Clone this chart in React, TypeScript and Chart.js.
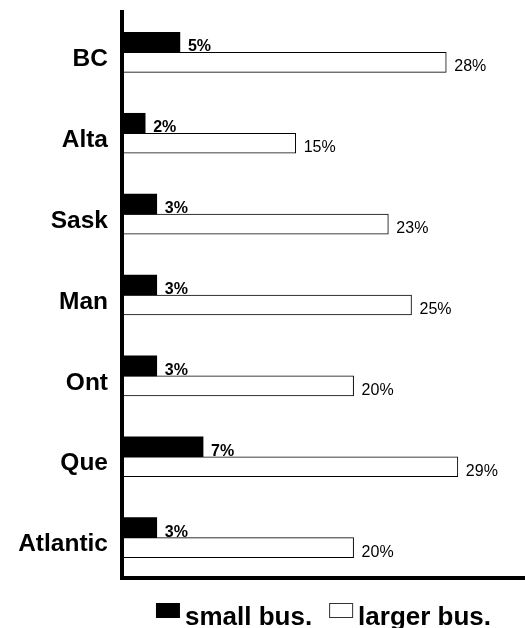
import React, { useEffect, useRef } from "react";
import { Chart, registerables } from "chart.js";

Chart.register(...registerables);

const categories = ["BC", "Alta", "Sask", "Man", "Ont", "Que", "Atlantic"];
const smallBus = [5, 2, 3, 3, 3, 7, 3];
const largerBus = [28, 15, 23, 25, 20, 29, 20];
const seriesNames = ["small bus.", "larger bus."];
const xMax = 34.8;

const FONT = "'Liberation Sans', Arial, Helvetica, sans-serif";

const valueLabels = {
  id: "valueLabels",
  afterDatasetsDraw(chart: any) {
    const ctx = chart.ctx;
    ctx.save();
    ctx.fillStyle = "#000";
    ctx.textAlign = "left";
    ctx.textBaseline = "alphabetic";
    chart.data.datasets.forEach((ds: any, di: number) => {
      const meta = chart.getDatasetMeta(di);
      ctx.font = (di === 0 ? "bold " : "") + "16px " + FONT;
      meta.data.forEach((el: any, i: number) => {
        const p = el.getProps(["x", "y", "height"], true);
        ctx.fillText(ds.data[i] + "%", p.x + 8, p.y + p.height / 2 - 1);
      });
    });
    ctx.restore();
  },
};

const bottomLegend = {
  id: "bottomLegend",
  afterDraw(chart: any) {
    const ctx = chart.ctx;
    const area = chart.chartArea;
    ctx.save();
    ctx.font = "bold 26px " + FONT;
    const boxW = 24;
    const boxH = 15;
    const gapBoxText = 5;
    const gapItems = 17;
    const widths = seriesNames.map((n) => ctx.measureText(n).width);
    const total =
      widths.reduce((a, b) => a + b, 0) + seriesNames.length * (boxW + gapBoxText) + gapItems * (seriesNames.length - 1);
    let x = (area.left + area.right) / 2 - total / 2;
    const boxTop = area.bottom + 25;
    const baseline = area.bottom + 47;
    seriesNames.forEach((n, i) => {
      const ds = chart.data.datasets[i];
      ctx.fillStyle = ds.backgroundColor;
      ctx.fillRect(x, boxTop, boxW, boxH);
      if (i === 1) {
        ctx.strokeStyle = "#333";
        ctx.lineWidth = 1;
        ctx.strokeRect(x + 0.5, boxTop + 0.5, boxW - 1, boxH - 1);
      }
      x += boxW + gapBoxText;
      ctx.fillStyle = "#000";
      ctx.textAlign = "left";
      ctx.textBaseline = "alphabetic";
      ctx.fillText(n, x, baseline);
      x += widths[i] + gapItems;
    });
    ctx.restore();
  },
};

export default function App() {
  const ref = useRef<HTMLCanvasElement>(null);
  useEffect(() => {
    if (!ref.current) return;
    const chart = new Chart(ref.current, {
      type: "bar",
      data: {
        labels: categories,
        datasets: [
          {
            label: seriesNames[0],
            data: smallBus,
            backgroundColor: "#000",
            borderWidth: 0,
          },
          {
            label: seriesNames[1],
            data: largerBus,
            backgroundColor: "#fff",
            borderColor: "#000",
            borderWidth: 1,
            borderSkipped: false,
          },
        ],
      },
      options: {
        indexAxis: "y",
        responsive: false,
        animation: false,
        datasets: {
          bar: { barThickness: 20 },
        },
        layout: { padding: { top: 12, right: 0, bottom: 50, left: 0 } },
        scales: {
          x: {
            type: "linear",
            min: 0,
            max: xMax,
            ticks: { display: false },
            grid: { display: false, drawTicks: false },
            border: { display: true, width: 4, color: "#000", z: 1 },
            afterFit: (s: any) => {
              s.height = 0;
              s.paddingLeft = 0;
              s.paddingRight = 0;
            },
          },
          y: {
            type: "category",
            ticks: {
              color: "#000",
              padding: 14,
              labelOffset: 7,
              font: { family: FONT, size: 24.5, weight: "bold" },
            },
            grid: { display: false, drawTicks: false },
            border: { display: true, width: 4, color: "#000", z: 1 },
            afterFit: (s: any) => {
              s.width = 122;
              s.paddingTop = 0;
              s.paddingBottom = 0;
            },
          },
        },
        plugins: {
          legend: { display: false },
          tooltip: { enabled: false },
        },
      },
      plugins: [valueLabels, bottomLegend],
    });
    return () => chart.destroy();
  }, []);
  return (
    <div style={{ position: "absolute", left: 0, top: 0, width: 525, height: 628 }}>
      <canvas ref={ref} width={525} height={628} style={{ display: "block" }} />
    </div>
  );
}
